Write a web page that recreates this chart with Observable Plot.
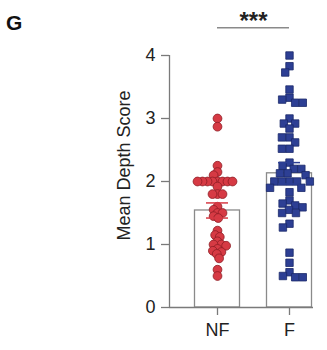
<!DOCTYPE html>
<html><head><meta charset="utf-8">
<script src="https://cdn.jsdelivr.net/npm/d3@7"></script>
<script src="https://cdn.jsdelivr.net/npm/@observablehq/plot@0.6"></script>
<style>
body{margin:0;background:#fff;font-family:"Liberation Sans",Arial,sans-serif;}
#wrap{position:relative;width:327px;height:350px;}
#panel{position:absolute;left:6px;top:12px;font-size:21px;line-height:21px;font-weight:bold;color:#111;}
#wrap svg{overflow:visible;}
</style></head><body>
<div id="wrap"><div id="panel">G</div></div>
<script>
const groups = ["NF", "F"];
const nfValues = [3.0, 2.87, 2.25, 2.15, 2.1, 2.0, 2.0, 2.0, 2.0, 2.0, 2.0, 2.0, 2.0, 1.92,
  1.8, 1.8, 1.8, 1.6, 1.55, 1.5, 1.5, 1.45, 1.42, 1.22, 1.15, 1.12, 1.05, 1.0, 1.0, 0.98,
  0.93, 0.9, 0.88, 0.85, 0.78, 0.6, 0.5];
const fValues = [4.0, 3.83, 3.73, 3.46, 3.33, 3.3, 3.25, 3.25, 3.0, 2.92, 2.92, 2.84, 2.7, 2.7,
  2.62, 2.52, 2.52, 2.3, 2.25, 2.2, 2.2, 2.13, 2.13, 2.1, 2.0, 2.0, 2.0, 2.0, 2.0, 1.9, 1.9,
  1.83, 1.7, 1.65, 1.62, 1.59, 1.55, 1.5, 1.5, 1.33, 1.27, 0.87, 0.71, 0.56, 0.5, 0.48, 0.48];
const means = [1.54, 2.13];
const sems = [0.12, 0.17];
const colors = ["#d63a44", "#2d3f94"];
const strokes = ["#8e1d24", "#1b2869"];
const yTicks = [0, 1, 2, 3, 4];
const yLabel = "Mean Depth Score";
const sigLabel = "***";
const sigLevel = 4.44;

const nfRows = nfValues.map(v => ({group: "NF", value: v}));
const fRows = fValues.map(v => ({group: "F", value: v}));
const summary = groups.map((g, i) => ({group: g, mean: means[i], sem: sems[i], color: colors[i]}));
const sig = [{group: groups[0], y: sigLevel, label: sigLabel}];

const plot = Plot.plot({
  width: 327, height: 350,
  marginTop: 55, marginBottom: 43, marginLeft: 181, marginRight: 2,
  style: {fontFamily: "Liberation Sans, Arial, sans-serif", fontSize: "18px", color: "#222", background: "transparent", overflow: "visible"},
  fx: {domain: groups, padding: 0, label: null},
  x: {domain: [0, 1], axis: null},
  y: {domain: [0, 4], axis: null},
  marks: [
    Plot.barY(summary, {fx: "group", y: "mean", fill: "white", stroke: "#8a8a8a", strokeWidth: 1.3, insetLeft: 13.5, insetRight: 13.5}),
    Plot.dot(nfRows, Plot.dodgeX({anchor: "middle", padding: -3.8}, {fx: "group", y: "value", r: 4.4, fill: colors[0], stroke: strokes[0], strokeWidth: 0.8})),
    Plot.dot(fRows, Plot.dodgeX({anchor: "middle", padding: -0.8}, {fx: "group", y: "value", r: 4.2, symbol: "square", fill: colors[1], stroke: strokes[1], strokeWidth: 0.8})),
    Plot.ruleX(summary, {fx: "group", y1: d => d.mean - d.sem, y2: d => d.mean + d.sem, stroke: "color", strokeWidth: 1.5}),
    Plot.tickY(summary, {fx: "group", y: d => d.mean + d.sem, stroke: "color", strokeWidth: 1.5, insetLeft: 25, insetRight: 25}),
    Plot.tickY(summary, {fx: "group", y: d => d.mean - d.sem, stroke: "color", strokeWidth: 1.5, insetLeft: 25, insetRight: 25}),
    Plot.ruleY([0], {dx: -12, stroke: "#7a7a7a", strokeWidth: 1.3}),
    Plot.ruleX([groups[0]], {fx: d => d, x: 0, y1: 0, y2: 4, dx: -12, stroke: "#7a7a7a", strokeWidth: 1.3}),
    Plot.axisY({ticks: yTicks, tickFormat: d3.format("d"), tickSize: 8, tickPadding: 6, dx: -12, label: null, stroke: "#7a7a7a", strokeWidth: 1.3, fill: "#222", fontSize: 18}),
    Plot.axisFx({anchor: "bottom", tickSize: 8, tickPadding: 8, label: null, stroke: "#7a7a7a", strokeWidth: 1.3, fill: "#222", fontSize: 18}),
    Plot.text([yLabel], {fx: () => groups[0], text: d => d, frameAnchor: "left", textAnchor: "middle", rotate: -90, dx: -57, dy: -16, fontSize: 18, fill: "#222"}),
    Plot.ruleY(sig, {fx: "group", y: "y", x1: 0.5, x2: 1.5, stroke: "#8a8a8a", strokeWidth: 1.5}),
    Plot.text(sig, {fx: "group", y: "y", x: 1, text: "label", dy: 1, lineAnchor: "bottom", fontSize: 24, fontWeight: "bold", fill: "#222"})
  ]
});
document.getElementById("wrap").appendChild(plot);
</script>
</body></html>
